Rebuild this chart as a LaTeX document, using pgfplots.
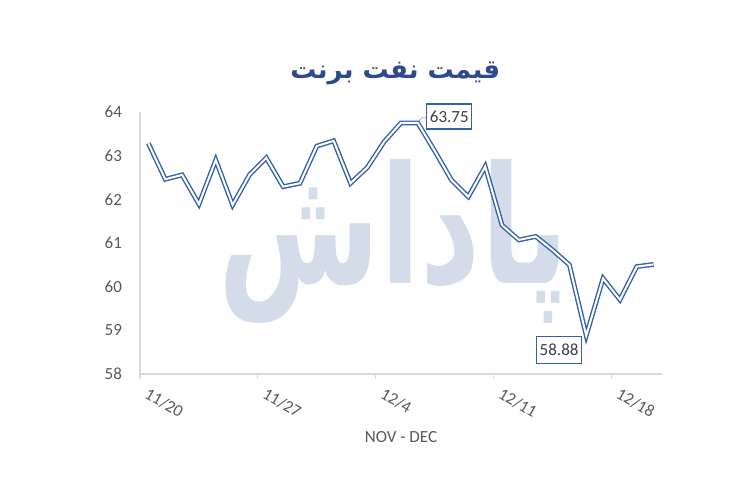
\documentclass[border=0pt]{standalone}
\usepackage{fontspec}
\usepackage{pgfplots}
\pgfplotsset{compat=1.18}
\setmainfont{Carlito}
\newfontfamily\arabicfont[Script=Arabic]{DejaVu Sans}
\TeXXeTstate=1
\definecolor{lineblue}{HTML}{3360AA}
\definecolor{titleblue}{HTML}{2E4A8B}
\definecolor{txtgray}{HTML}{595959}
\definecolor{axgray}{HTML}{D9D9D9}
\definecolor{wm}{HTML}{D3DCE8}
\begin{document}
\begin{tikzpicture}
\path[use as bounding box] (-70pt,-63pt) rectangle (305pt,187pt);
\node[text=wm, inner sep=0pt] at (127pt,66.5pt) {\resizebox{175pt}{62pt}{\arabicfont\bfseries\beginR پاداش\endR}};
\begin{axis}[
 at={(0,0)}, anchor=south west,
 scale only axis, width=261pt, height=131pt,
 xmin=-0.5, xmax=30.5, ymin=58, ymax=64,
 axis x line*=bottom, axis y line*=left,
 axis line style={draw=axgray, line width=0.6pt},
 xtick={-0.5,6.5,13.5,20.5,27.5},
 xticklabels={11/20,11/27,12/4,12/11,12/18},
 ytick={58,59,...,64},
 tick align=outside, major tick length=2.5pt,
 xtick style={draw=axgray, line width=0.6pt}, ytick style={draw=none},
 tick label style={font=\fontsize{8.5}{10}\selectfont, text=txtgray},
 /pgf/number format/assume math mode=true,
 xticklabel style={rotate=-30, anchor=north west, xshift=5pt, yshift=0pt, inner sep=1pt},
 yticklabel style={xshift=-3pt},
 xlabel={NOV - DEC},
 xlabel style={font=\fontsize{8.5}{10}\selectfont, text=txtgray, at={(axis description cs:0.5,0)}, anchor=center, yshift=-31.5pt},
 clip=false,
]
\addplot[lineblue, line width=0.7pt, double=white, double distance=1pt, line join=miter] coordinates {
(0,63.28) (1,62.46) (2,62.56) (3,61.89) (4,62.90) (5,61.87) (6,62.56) (7,62.95)
(8,62.29) (9,62.37) (10,63.22) (11,63.34) (12,62.37) (13,62.73) (14,63.32) (15,63.75)
(16,63.75) (17,63.11) (18,62.44) (19,62.06) (20,62.75) (21,61.41) (22,61.07) (23,61.15)
(24,60.84) (25,60.50) (26,58.88) (27,60.19) (28,59.70) (29,60.46) (30,60.51)
};
\node[text=titleblue, font=\fontsize{13}{15}\selectfont] at (rel axis cs:0.489,1) [yshift=19.5pt] {\arabicfont\bfseries\beginR قیمت نفت برنت\endR};
\draw[gray!70, line width=0.4pt] ([xshift=0.5pt,yshift=1pt]axis cs:16,63.75) -- ([xshift=2pt,yshift=2.6pt]axis cs:16,63.75) -- ([xshift=4.5pt,yshift=2.6pt]axis cs:16,63.75);
\node[draw=lineblue, fill=white, line width=0.6pt, anchor=west, minimum width=22.5pt, minimum height=12.5pt, inner sep=1pt, font=\fontsize{8.5}{10}\selectfont, text=black!75, xshift=4.2pt, yshift=3.2pt] at (axis cs:16,63.75) {63.75};
\node[draw=lineblue, fill=white, line width=0.6pt, anchor=north east, minimum width=22.5pt, minimum height=13.5pt, inner sep=1pt, font=\fontsize{8.5}{10}\selectfont, text=black!75, xshift=-2pt] at (axis cs:26,58.88) {58.88};
\end{axis}
\end{tikzpicture}
\end{document}
